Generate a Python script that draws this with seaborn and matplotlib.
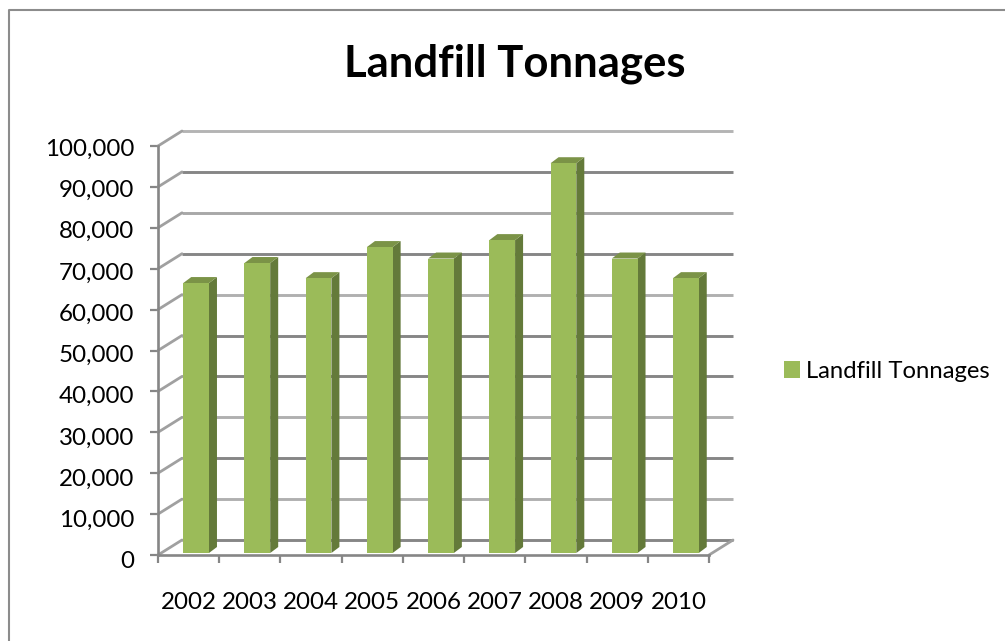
import matplotlib
matplotlib.use('Agg')
import matplotlib.pyplot as plt
import pandas as pd
import seaborn as sns
from matplotlib.patches import Polygon
from matplotlib.transforms import Affine2D, offset_copy

years = ['2002', '2003', '2004', '2005', '2006', '2007', '2008', '2009', '2010']
tonnes = [66000, 70900, 67200, 74800, 72000, 76500, 95300, 72000, 67200]
y_ticks = [0, 10000, 20000, 30000, 40000, 50000, 60000, 70000, 80000, 90000, 100000]
# gridlines come out alternately dark and pale in the original
grid_colors = ['#868686', '#b0b0b0', '#868686', '#b0b0b0', '#868686', '#868686',
               '#b0b0b0', '#868686', '#a8a8a8', '#868686', '#b4b4b4']
series = 'Landfill Tonnages'

W, H = 1005, 641
sns.set_style('white')
plt.rcParams['font.family'] = ['Lato', 'DejaVu Sans']

fig = plt.figure(figsize=(W / 100, H / 100), dpi=100)

# plot area in pixels
left, right, top, bottom = 158, 709, 146, 555
ax = fig.add_axes([left / W, 1 - bottom / H, (right - left) / W, (bottom - top) / H])
ax.patch.set_visible(False)

df = pd.DataFrame({'year': years, 'tonnes': tonnes})
sns.barplot(data=df, x='year', y='tonnes', color='#9bbb59', saturation=1, width=0.42,
            label=series, ax=ax, zorder=4)

ax.set_xlim(-0.5, len(years) - 0.5)
ax.set_ylim(0, 100000)

# back wall gridlines, pushed back and up from the front plane
back = offset_copy(ax.transData, fig, x=24, y=15, units='dots')
for v, c in zip(y_ticks, grid_colors):
    ax.plot([-0.5, len(years) - 0.5], [v, v], transform=back, color=c, lw=2.1,
            clip_on=False, zorder=1, solid_capstyle='butt')
    # short diagonal on the side wall
    x0, y0 = ax.transData.transform((-0.5, v))
    ax.plot([x0, x0 + 24], [y0, y0 + 15], transform=None, color='#a0a0a0', lw=2,
            clip_on=False, zorder=1)

x0, y0 = ax.transData.transform((len(years) - 0.5, 0))
ax.plot([x0, x0 + 24], [y0, y0 + 15], transform=None, color='#a0a0a0', lw=2,
        clip_on=False, zorder=1)

# turn flat bars into 3D columns
dx, dy = 8, 6
shift_x, shift_y = 7.5, 2
for bar in list(ax.patches):
    bar.set_linewidth(0)
    (xa, ya), (xb, yb) = ax.transData.transform(bar.get_bbox().get_points())
    xa, xb = xa + shift_x, xb + shift_x
    ya, yb = ya + shift_y, yb + shift_y
    bar.set_transform(offset_copy(ax.transData, fig, x=shift_x, y=shift_y, units='dots'))
    ax.add_patch(Polygon([(xb, ya), (xb + dx, ya + dy), (xb + dx, yb + dy), (xb, yb)],
                         transform=None, facecolor='#647a3a', edgecolor='none', zorder=3,
                         clip_on=False))
    ax.add_patch(Polygon([(xa, yb), (xa + dx, yb + dy), (xb + dx, yb + dy), (xb, yb)],
                         transform=None, facecolor='#7b9347', edgecolor='none', zorder=3,
                         clip_on=False))

sns.despine(ax=ax, top=True, right=True)
for s in ['left', 'bottom']:
    ax.spines[s].set_color('#868686')
    ax.spines[s].set_linewidth(1.9)

ax.set_xlabel('')
ax.set_ylabel('')
ax.set_yticks(y_ticks)
ax.set_yticklabels([f'{v:,}' for v in y_ticks])
ax.set_xticks([i - 0.5 for i in range(len(years) + 1)], minor=False)
ax.set_xticklabels([''] * (len(years) + 1))
ax.tick_params(axis='both', length=6, width=1.6, color='#868686', labelsize=17.4,
               labelcolor='black', left=True, bottom=True, pad=11)

# labels drift a few pixels below their ticks toward the bottom
for lab, v in zip(ax.get_yticklabels(), y_ticks):
    lab.set_transform(lab.get_transform() + Affine2D().translate(0, -1 - 4 * (1 - v / 100000)))

for i, y in enumerate(years):
    ax.text(i, -11500, y, ha='center', va='center', fontsize=17.4, color='black')

fig.text(515 / W, 1 - 64 / H, series, ha='center', va='center', fontsize=31.4,
         fontweight='bold', color='black')

ax.legend(loc='center left', bbox_to_anchor=(762 / W, 1 - 371 / H),
          bbox_transform=fig.transFigure, frameon=False, fontsize=17.2, labelcolor='black',
          handlelength=0.7, handleheight=0.7, handletextpad=0.25)

# frame of the chart, only top and left are inside the picture
fig.add_artist(plt.Line2D([9, 9, W], [0, H - 10, H - 10], transform=None,
                          color='#8c8c8c', lw=1.5))

fig.savefig('out.png', dpi=100)
